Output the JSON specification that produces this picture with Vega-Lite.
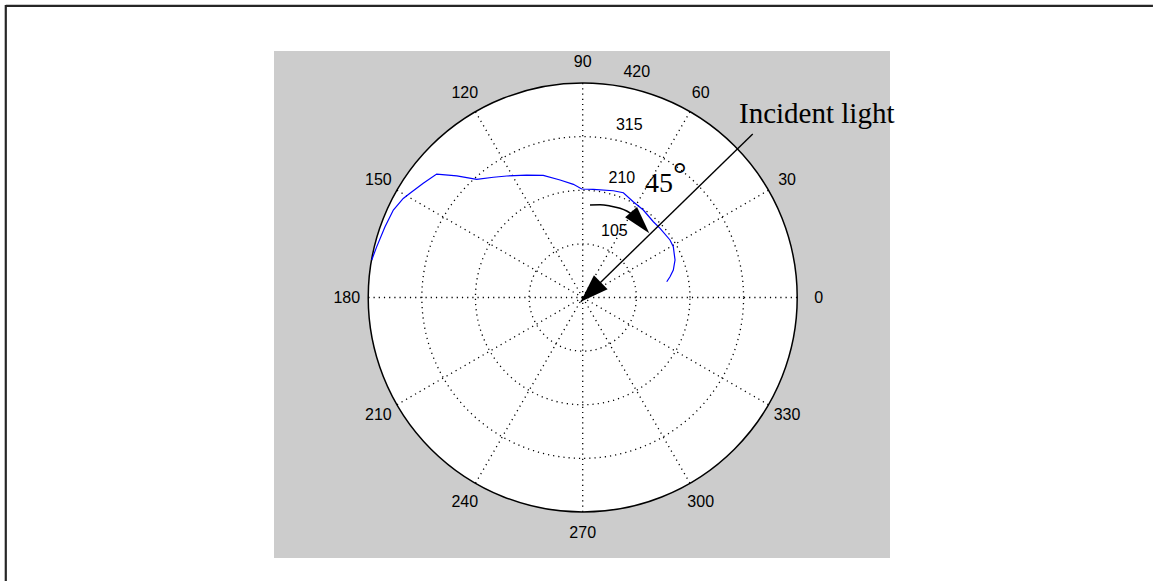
{
  "$schema": "https://vega.github.io/schema/vega-lite/v6.json",
  "width": 616,
  "height": 507,
  "autosize": "none",
  "padding": {"left": 274, "top": 51, "right": 263, "bottom": 23},
  "background": "white",
  "config": {"view": {"fill": "#cccccc", "stroke": null}},
  "datasets": {
    "outer": [{"cx": 0, "cy": 0, "t0": 0, "t1": 360, "r": 420}],
    "rings": [
      {"cx": 0, "cy": 0, "t0": 0, "t1": 360, "r": 105},
      {"cx": 0, "cy": 0, "t0": 0, "t1": 360, "r": 210},
      {"cx": 0, "cy": 0, "t0": 0, "t1": 360, "r": 315}
    ],
    "spokes": [
      {"theta": 0, "r0": 0, "r": 420}, {"theta": 30, "r0": 0, "r": 420}, {"theta": 60, "r0": 0, "r": 420},
      {"theta": 90, "r0": 0, "r": 420}, {"theta": 120, "r0": 0, "r": 420}, {"theta": 150, "r0": 0, "r": 420},
      {"theta": 180, "r0": 0, "r": 420}, {"theta": 210, "r0": 0, "r": 420}, {"theta": 240, "r0": 0, "r": 420},
      {"theta": 270, "r0": 0, "r": 420}, {"theta": 300, "r0": 0, "r": 420}, {"theta": 330, "r0": 0, "r": 420}
    ],
    "angleLabels": [
      {"label": "0", "theta": 0, "r": 462}, {"label": "30", "theta": 30, "r": 462},
      {"label": "60", "theta": 60, "r": 462}, {"label": "90", "theta": 90, "r": 462},
      {"label": "120", "theta": 120, "r": 462}, {"label": "150", "theta": 150, "r": 462},
      {"label": "180", "theta": 180, "r": 462}, {"label": "210", "theta": 210, "r": 462},
      {"label": "240", "theta": 240, "r": 462}, {"label": "270", "theta": 270, "r": 462},
      {"label": "300", "theta": 300, "r": 462}, {"label": "330", "theta": 330, "r": 462}
    ],
    "ringLabels": [
      {"label": "105", "theta": 82, "r": 131},
      {"label": "210", "theta": 82, "r": 236},
      {"label": "315", "theta": 82, "r": 341},
      {"label": "420", "theta": 82, "r": 446}
    ],
    "curve": [
      {"i": 1, "theta": 169.9, "r": 419.6},
      {"i": 2, "theta": 166.2, "r": 415.5},
      {"i": 3, "theta": 160.3, "r": 411.2},
      {"i": 4, "theta": 155.2, "r": 408.5},
      {"i": 5, "theta": 151.1, "r": 401.4},
      {"i": 6, "theta": 148.9, "r": 395.0},
      {"i": 7, "theta": 144.4, "r": 384.0},
      {"i": 8, "theta": 139.8, "r": 374.4},
      {"i": 9, "theta": 136.0, "r": 342.7},
      {"i": 10, "theta": 131.9, "r": 310.9},
      {"i": 11, "theta": 126.6, "r": 293.3},
      {"i": 12, "theta": 122.0, "r": 280.6},
      {"i": 13, "theta": 114.6, "r": 263.7},
      {"i": 14, "theta": 107.9, "r": 251.4},
      {"i": 15, "theta": 100.9, "r": 234.4},
      {"i": 16, "theta": 94.7, "r": 222.4},
      {"i": 17, "theta": 90.5, "r": 212.5},
      {"i": 18, "theta": 84.4, "r": 212.9},
      {"i": 19, "theta": 74.0, "r": 217.5},
      {"i": 20, "theta": 68.8, "r": 220.1},
      {"i": 21, "theta": 62.2, "r": 212.1},
      {"i": 22, "theta": 55.3, "r": 208.4},
      {"i": 23, "theta": 47.0, "r": 202.8},
      {"i": 24, "theta": 41.8, "r": 203.2},
      {"i": 25, "theta": 33.4, "r": 204.7},
      {"i": 26, "theta": 29.3, "r": 203.4},
      {"i": 27, "theta": 22.1, "r": 195.1},
      {"i": 28, "theta": 16.9, "r": 185.4},
      {"i": 29, "theta": 13.4, "r": 175.7},
      {"i": 30, "theta": 10.65, "r": 167.4}
    ],
    "bend": [
      {"i": 1, "theta": 85.5, "r": 181.7},
      {"i": 2, "theta": 79.4, "r": 184.8},
      {"i": 3, "theta": 73.4, "r": 187.0},
      {"i": 4, "theta": 67.3, "r": 189.3},
      {"i": 5, "theta": 63.0, "r": 190.0},
      {"i": 6, "theta": 59.6, "r": 189.6}
    ],
    "incident": [{"theta": 244.5, "r": 9.1, "theta2": 43.88, "r2": 461.9}],
    "incidentTip": [{"theta": 244.5, "r": 9.1}],
    "bendTip": [{"theta": 43.95, "r": 181.1}],
    "incidentText": [{"label": "Incident light", "theta": 48.07, "r": 458.0}],
    "angleText": [{"label": "45", "theta": 59.44, "r": 239.9}],
    "degree": [{"label": "°", "theta": 51.25, "r": 282.5}],
    "frame": [
      {"x": -1129.7, "y": 571.2, "x2": 1116.6, "y2": 571.2},
      {"x": -1129.7, "y": 573.0, "x2": -1129.7, "y2": -555.0}
    ]
  },
  "layer": [
    {
      "data": {"name": "outer"},
      "mark": {"type": "arc", "fill": "white", "stroke": "black", "strokeWidth": 1.5},
      "encoding": {
        "x": {"field": "cx", "type": "quantitative", "scale": {"domain": [-604.5, 601.7], "nice": false, "zero": false}, "axis": null},
        "y": {"field": "cy", "type": "quantitative", "scale": {"domain": [-510.1, 482.7], "nice": false, "zero": false}, "axis": null},
        "theta": {"field": "t0", "type": "quantitative", "stack": null, "scale": {"domain": [0, 360], "range": [1.5708, -4.7124]}},
        "theta2": {"field": "t1"},
        "radius": {"field": "r", "type": "quantitative", "scale": {"type": "linear", "domain": [0, 420], "range": [0, 214.5], "zero": true}}
      }
    },
    {
      "data": {"name": "rings"},
      "mark": {"type": "arc", "filled": false, "color": "black", "strokeWidth": 1.3, "strokeDash": [1.2, 4]},
      "encoding": {
        "x": {"field": "cx", "type": "quantitative", "scale": {"domain": [-604.5, 601.7], "nice": false, "zero": false}, "axis": null},
        "y": {"field": "cy", "type": "quantitative", "scale": {"domain": [-510.1, 482.7], "nice": false, "zero": false}, "axis": null},
        "theta": {"field": "t0", "type": "quantitative", "stack": null, "scale": {"domain": [0, 360], "range": [1.5708, -4.7124]}},
        "theta2": {"field": "t1"},
        "radius": {"field": "r", "type": "quantitative", "scale": {"type": "linear", "domain": [0, 420], "range": [0, 214.5], "zero": true}}
      }
    },
    {
      "data": {"name": "spokes"},
      "transform": [
        {"calculate": "datum.r0*cos(datum.theta*PI/180)", "as": "px0"},
        {"calculate": "datum.r0*sin(datum.theta*PI/180)", "as": "py0"},
        {"calculate": "datum.r*cos(datum.theta*PI/180)", "as": "px"},
        {"calculate": "datum.r*sin(datum.theta*PI/180)", "as": "py"}
      ],
      "mark": {"type": "rule", "color": "black", "strokeWidth": 1.3, "strokeDash": [1.2, 4]},
      "encoding": {
        "x": {"field": "px0", "type": "quantitative", "scale": {"domain": [-604.5, 601.7], "nice": false, "zero": false}, "axis": null},
        "y": {"field": "py0", "type": "quantitative", "scale": {"domain": [-510.1, 482.7], "nice": false, "zero": false}, "axis": null},
        "x2": {"field": "px"},
        "y2": {"field": "py"}
      }
    },
    {
      "data": {"name": "curve"},
      "transform": [
        {"calculate": "datum.r*cos(datum.theta*PI/180)", "as": "px"},
        {"calculate": "datum.r*sin(datum.theta*PI/180)", "as": "py"}
      ],
      "mark": {"type": "line", "color": "#0000ff", "strokeWidth": 1.2},
      "encoding": {
        "x": {"field": "px", "type": "quantitative", "scale": {"domain": [-604.5, 601.7], "nice": false, "zero": false}, "axis": null},
        "y": {"field": "py", "type": "quantitative", "scale": {"domain": [-510.1, 482.7], "nice": false, "zero": false}, "axis": null},
        "order": {"field": "i", "type": "quantitative"}
      }
    },
    {
      "data": {"name": "bend"},
      "transform": [
        {"calculate": "datum.r*cos(datum.theta*PI/180)", "as": "px"},
        {"calculate": "datum.r*sin(datum.theta*PI/180)", "as": "py"}
      ],
      "mark": {"type": "line", "color": "black", "strokeWidth": 1.6, "interpolate": "monotone"},
      "encoding": {
        "x": {"field": "px", "type": "quantitative", "scale": {"domain": [-604.5, 601.7], "nice": false, "zero": false}, "axis": null},
        "y": {"field": "py", "type": "quantitative", "scale": {"domain": [-510.1, 482.7], "nice": false, "zero": false}, "axis": null},
        "order": {"field": "i", "type": "quantitative"}
      }
    },
    {
      "data": {"name": "incident"},
      "transform": [
        {"calculate": "datum.r*cos(datum.theta*PI/180)", "as": "px"},
        {"calculate": "datum.r*sin(datum.theta*PI/180)", "as": "py"},
        {"calculate": "datum.r2*cos(datum.theta2*PI/180)", "as": "px2"},
        {"calculate": "datum.r2*sin(datum.theta2*PI/180)", "as": "py2"}
      ],
      "mark": {"type": "rule", "color": "black", "strokeWidth": 1.4},
      "encoding": {
        "x": {"field": "px", "type": "quantitative", "scale": {"domain": [-604.5, 601.7], "nice": false, "zero": false}, "axis": null},
        "y": {"field": "py", "type": "quantitative", "scale": {"domain": [-510.1, 482.7], "nice": false, "zero": false}, "axis": null},
        "x2": {"field": "px2"},
        "y2": {"field": "py2"}
      }
    },
    {
      "data": {"name": "incidentTip"},
      "transform": [
        {"calculate": "datum.r*cos(datum.theta*PI/180)", "as": "px"},
        {"calculate": "datum.r*sin(datum.theta*PI/180)", "as": "py"}
      ],
      "mark": {"type": "point", "shape": "M0,0L-0.7,2L0.7,2Z", "filled": true, "color": "black", "opacity": 1, "size": 784, "angle": 225.7},
      "encoding": {
        "x": {"field": "px", "type": "quantitative", "scale": {"domain": [-604.5, 601.7], "nice": false, "zero": false}, "axis": null},
        "y": {"field": "py", "type": "quantitative", "scale": {"domain": [-510.1, 482.7], "nice": false, "zero": false}, "axis": null}
      }
    },
    {
      "data": {"name": "bendTip"},
      "transform": [
        {"calculate": "datum.r*cos(datum.theta*PI/180)", "as": "px"},
        {"calculate": "datum.r*sin(datum.theta*PI/180)", "as": "py"}
      ],
      "mark": {"type": "point", "shape": "M0,0L-0.56,2L0.56,2Z", "filled": true, "color": "black", "opacity": 1, "size": 784, "angle": 139.4},
      "encoding": {
        "x": {"field": "px", "type": "quantitative", "scale": {"domain": [-604.5, 601.7], "nice": false, "zero": false}, "axis": null},
        "y": {"field": "py", "type": "quantitative", "scale": {"domain": [-510.1, 482.7], "nice": false, "zero": false}, "axis": null}
      }
    },
    {
      "data": {"name": "angleLabels"},
      "transform": [
        {"calculate": "datum.r*cos(datum.theta*PI/180)", "as": "px"},
        {"calculate": "datum.r*sin(datum.theta*PI/180)", "as": "py"}
      ],
      "mark": {"type": "text", "font": "Liberation Sans", "fontSize": 16, "color": "black", "align": "center", "baseline": "middle"},
      "encoding": {
        "x": {"field": "px", "type": "quantitative", "scale": {"domain": [-604.5, 601.7], "nice": false, "zero": false}, "axis": null},
        "y": {"field": "py", "type": "quantitative", "scale": {"domain": [-510.1, 482.7], "nice": false, "zero": false}, "axis": null},
        "text": {"field": "label", "type": "nominal"}
      }
    },
    {
      "data": {"name": "ringLabels"},
      "transform": [
        {"calculate": "datum.r*cos(datum.theta*PI/180)", "as": "px"},
        {"calculate": "datum.r*sin(datum.theta*PI/180)", "as": "py"}
      ],
      "mark": {"type": "text", "font": "Liberation Sans", "fontSize": 16, "color": "black", "align": "left", "baseline": "middle", "dx": 9},
      "encoding": {
        "x": {"field": "px", "type": "quantitative", "scale": {"domain": [-604.5, 601.7], "nice": false, "zero": false}, "axis": null},
        "y": {"field": "py", "type": "quantitative", "scale": {"domain": [-510.1, 482.7], "nice": false, "zero": false}, "axis": null},
        "text": {"field": "label", "type": "nominal"}
      }
    },
    {
      "data": {"name": "incidentText"},
      "transform": [
        {"calculate": "datum.r*cos(datum.theta*PI/180)", "as": "px"},
        {"calculate": "datum.r*sin(datum.theta*PI/180)", "as": "py"}
      ],
      "mark": {"type": "text", "font": "Liberation Serif", "fontSize": 29, "color": "black", "align": "left", "baseline": "alphabetic"},
      "encoding": {
        "x": {"field": "px", "type": "quantitative", "scale": {"domain": [-604.5, 601.7], "nice": false, "zero": false}, "axis": null},
        "y": {"field": "py", "type": "quantitative", "scale": {"domain": [-510.1, 482.7], "nice": false, "zero": false}, "axis": null},
        "text": {"field": "label", "type": "nominal"}
      }
    },
    {
      "data": {"name": "angleText"},
      "transform": [
        {"calculate": "datum.r*cos(datum.theta*PI/180)", "as": "px"},
        {"calculate": "datum.r*sin(datum.theta*PI/180)", "as": "py"}
      ],
      "mark": {"type": "text", "font": "Liberation Serif", "fontSize": 28, "color": "black", "align": "left", "baseline": "alphabetic"},
      "encoding": {
        "x": {"field": "px", "type": "quantitative", "scale": {"domain": [-604.5, 601.7], "nice": false, "zero": false}, "axis": null},
        "y": {"field": "py", "type": "quantitative", "scale": {"domain": [-510.1, 482.7], "nice": false, "zero": false}, "axis": null},
        "text": {"field": "label", "type": "nominal"}
      }
    },
    {
      "data": {"name": "degree"},
      "transform": [
        {"calculate": "datum.r*cos(datum.theta*PI/180)", "as": "px"},
        {"calculate": "datum.r*sin(datum.theta*PI/180)", "as": "py"}
      ],
      "mark": {"type": "text", "font": "Liberation Serif", "fontSize": 34, "color": "black", "align": "left", "baseline": "alphabetic"},
      "encoding": {
        "x": {"field": "px", "type": "quantitative", "scale": {"domain": [-604.5, 601.7], "nice": false, "zero": false}, "axis": null},
        "y": {"field": "py", "type": "quantitative", "scale": {"domain": [-510.1, 482.7], "nice": false, "zero": false}, "axis": null},
        "text": {"field": "label", "type": "nominal"}
      }
    },
    {
      "data": {"name": "frame"},
      "mark": {"type": "rule", "color": "#262626", "strokeWidth": 2.2},
      "encoding": {
        "x": {"field": "x", "type": "quantitative", "scale": {"domain": [-604.5, 601.7], "nice": false, "zero": false}, "axis": null},
        "y": {"field": "y", "type": "quantitative", "scale": {"domain": [-510.1, 482.7], "nice": false, "zero": false}, "axis": null},
        "x2": {"field": "x2"},
        "y2": {"field": "y2"}
      }
    }
  ]
}
